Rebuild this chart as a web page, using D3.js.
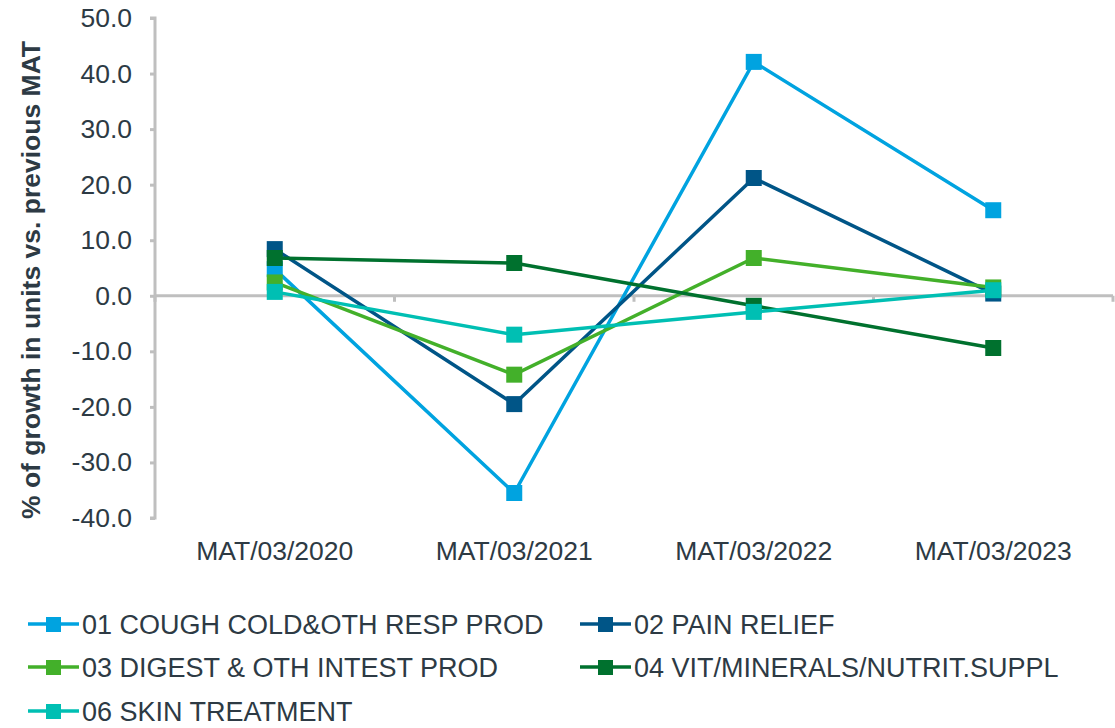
<!DOCTYPE html>
<html><head><meta charset="utf-8">
<script src="https://cdn.jsdelivr.net/npm/d3@7"></script>
<style>body{margin:0;background:#fff;font-family:"Liberation Sans",Arial,sans-serif;}</style>
</head><body><svg id="c" width="1115" height="728"></svg>
<script>
const categories = ["MAT/03/2020","MAT/03/2021","MAT/03/2022","MAT/03/2023"];
const seriesNames = ["01 COUGH COLD&OTH RESP PROD","02 PAIN RELIEF","03 DIGEST & OTH INTEST PROD","04 VIT/MINERALS/NUTRIT.SUPPL","06 SKIN TREATMENT"];
const seriesColors = ["#00a3e0","#005587","#43b02a","#00712e","#00bfb3"];
const cough = [4.8, -35.5, 42.1, 15.4];
const pain = [8.4, -19.5, 21.2, 0.4];
const digest = [2.4, -14.2, 6.8, 1.5];
const vit = [6.8, 5.9, -1.8, -9.4];
const skin = [0.7, -7.0, -2.9, 1.0];
const yTicks = [50,40,30,20,10,0,-10,-20,-30,-40];
const seriesValues = [cough, pain, digest, vit, skin];

const svg = d3.select("#c");
const pLeft = 155, pRight = 1113, pTop = 18, pBottom = 518;
const x = d3.scaleBand().domain(categories).range([pLeft, pRight]);
const y = d3.scaleLinear().domain([-40, 50]).range([pBottom, pTop]);
const textColor = "#2d3a44", axisColor = "#bfbfbf";
const fs = "27px";

// y axis
const ya = svg.append("g").attr("transform", `translate(${pLeft},0)`)
  .call(d3.axisLeft(y).tickValues(yTicks).tickSize(5).tickPadding(18).tickFormat(d => d.toFixed(1)));
ya.select(".domain").attr("stroke", axisColor).attr("stroke-width", 3).attr("d", `M-5,${pTop}H0V${pBottom}H-5`);
ya.selectAll(".tick line").attr("stroke", axisColor).attr("stroke-width", 3);
ya.selectAll(".tick text").attr("fill", textColor).style("font-size", "26.5px").style("font-family", "Liberation Sans, Arial, sans-serif");

// x axis at zero
const xa = svg.append("g").attr("transform", `translate(0,${y(0)})`)
  .call(d3.axisBottom(x).tickSize(0).tickFormat(""));
xa.select(".domain").attr("stroke", axisColor).attr("stroke-width", 3).attr("d", `M${pLeft},0H${pRight}`);
const bounds = categories.map(c => x(c)).concat([pRight]);
xa.selectAll(".bt").data(bounds).enter().append("line")
  .attr("x1", d => d).attr("x2", d => d).attr("y1", 0).attr("y2", 6)
  .attr("stroke", axisColor).attr("stroke-width", 3);

// category labels
svg.append("g").selectAll("text").data(categories).enter().append("text")
  .attr("x", d => x(d) + x.bandwidth()/2).attr("y", 560)
  .attr("text-anchor", "middle").attr("fill", textColor)
  .style("font-size", "26.5px").text(d => d);

// y title
svg.append("text").attr("transform", `translate(40,${(pTop+pBottom)/2 + 12}) rotate(-90)`)
  .attr("text-anchor", "middle").attr("fill", textColor)
  .style("font-size", "26.5px").style("font-weight", "bold")
  .text("% of growth in units vs. previous MAT");

// series
const line = d3.line().x((d,i) => x(categories[i]) + x.bandwidth()/2).y(d => y(d));
seriesValues.forEach((vals, s) => {
  const g = svg.append("g");
  g.append("path").datum(vals).attr("d", line).attr("fill", "none")
    .attr("stroke", seriesColors[s]).attr("stroke-width", 3.5);
  g.selectAll("rect").data(vals).enter().append("rect")
    .attr("x", (d,i) => x(categories[i]) + x.bandwidth()/2 - 8)
    .attr("y", d => y(d) - 8).attr("width", 16).attr("height", 16)
    .attr("fill", seriesColors[s]);
});

// legend
const legPos = [[28,624],[580,624],[28,667],[580,667],[28,711]];
seriesNames.forEach((n, s) => {
  const [lx, ly] = legPos[s];
  const g = svg.append("g").attr("transform", `translate(${lx},${ly})`);
  g.append("line").attr("x1", 0).attr("x2", 51).attr("y1", 0).attr("y2", 0)
    .attr("stroke", seriesColors[s]).attr("stroke-width", 3.5);
  g.append("rect").attr("x", 18).attr("y", -7).attr("width", 15).attr("height", 15).attr("fill", seriesColors[s]);
  g.append("text").attr("x", 54).attr("y", 9.5).attr("fill", textColor)
    .style("font-size", fs).text(n);
});
</script></body></html>
